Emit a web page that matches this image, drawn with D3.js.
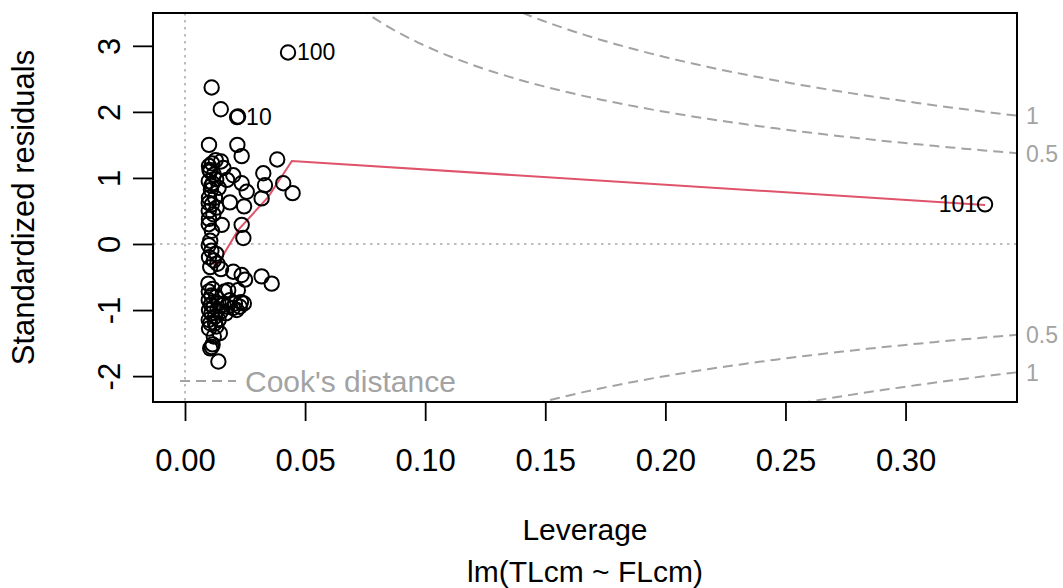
<!DOCTYPE html>
<html>
<head>
<meta charset="utf-8">
<script src="https://cdn.jsdelivr.net/npm/d3@7"></script>
<style>
  html, body { margin: 0; padding: 0; background: #ffffff; }
  svg { display: block; font-family: "Liberation Sans", Arial, sans-serif; }
</style>
</head>
<body>
<svg id="chart" width="1063" height="588"></svg>
<script>
// Leverage (hat values) of each observation
const leverage = [
  0.0429, 0.0111, 0.0149, 0.0217, 0.0221, 0.0100, 0.0218, 0.0236, 0.0384, 0.0128,
  0.0113, 0.0100, 0.0150, 0.0326, 0.0105, 0.0120, 0.0201, 0.0333, 0.0409, 0.0236,
  0.0099, 0.0110, 0.0130, 0.0257, 0.0448, 0.0319, 0.0187, 0.0246, 0.0100, 0.0112,
  0.0140, 0.0099, 0.0118, 0.0100, 0.0153, 0.0236, 0.0099, 0.0243, 0.0105, 0.0099,
  0.0110, 0.0100, 0.0120, 0.0135, 0.0105, 0.0201, 0.0236, 0.0250, 0.0319, 0.0361,
  0.0097, 0.0165, 0.0220, 0.0110, 0.0130, 0.0099, 0.0187, 0.0208, 0.0233, 0.0245,
  0.0200, 0.0176, 0.0120, 0.0140, 0.0100, 0.0110, 0.0150, 0.0125, 0.0099, 0.0105,
  0.0140, 0.0130, 0.0100, 0.0145, 0.0111, 0.0105, 0.0115, 0.0139, 0.0102, 0.0115,
  0.0125, 0.0108, 0.0160, 0.0175, 0.0099, 0.0132, 0.0112, 0.0130, 0.0150, 0.0160,
  0.0180, 0.0115, 0.0099, 0.0135, 0.0170, 0.0215, 0.0120, 0.0125, 0.0108, 0.0228,
  0.3331
];
// Standardized residuals, same order as leverage
const stdResid = [
  2.90, 2.37, 2.04, 1.92, 1.93, 1.50, 1.50, 1.33, 1.28, 1.27,
  1.22, 1.18, 1.25, 1.07, 1.10, 1.05, 1.04, 0.89, 0.92, 0.92,
  0.95, 0.88, 0.98, 0.79, 0.77, 0.69, 0.63, 0.57, 0.70, 0.60,
  0.85, 0.50, 0.45, 0.38, 0.29, 0.29, 0.30, 0.09, 0.05, -0.02,
  -0.10, -0.20, -0.25, -0.30, -0.35, -0.42, -0.47, -0.54, -0.49, -0.60,
  -0.60, -0.72, -0.70, -0.78, -0.80, -0.85, -0.85, -0.90, -0.88, -0.90,
  -0.97, -0.95, -0.95, -0.90, -1.00, -1.05, -1.02, -1.10, -1.15, -1.20,
  -1.15, -1.25, -1.28, -1.35, -1.56, -1.58, -1.52, -1.78, 1.12, 0.92,
  0.70, 0.82, 1.15, 0.97, 0.62, 0.55, 0.20, -0.15, -0.38, -0.92,
  -0.70, -0.68, -0.72, -1.00, -1.05, -1.00, -1.40, -1.20, -0.92, -0.95,
  0.60
];
// Observation ids shown next to the three most extreme points
const idLabels = ["100", "10", "101"];
const idIndex = [0, 3, 100];

// Smoothed trend of residuals against leverage
const smoothLeverage = [0.0096, 0.0129, 0.0221, 0.0346, 0.0445, 0.3331];
const smoothResid = [-0.15, -0.35, 0.21, 0.71, 1.256, 0.59];

// Cook's distance contour levels and number of model parameters
const cookLevels = [0.5, 1];
const nParams = 2;

const xTicks = [0.00, 0.05, 0.10, 0.15, 0.20, 0.25, 0.30];
const yTicks = [-2, -1, 0, 1, 2, 3];

const svg = d3.select("#chart");
const plot = { left: 153, right: 1017, top: 13, bottom: 402 };

const x = d3.scaleLinear().domain([-0.01332, 0.3464]).range([plot.left, plot.right]);
const y = d3.scaleLinear().domain([-2.392, 3.497]).range([plot.bottom, plot.top]);

const grey = "#a3a3a3";
const fontTick = 31;
const fontTitle = 30;
const fontId = 23;

svg.append("defs").append("clipPath").attr("id", "clip")
  .append("rect")
  .attr("x", plot.left).attr("y", plot.top)
  .attr("width", plot.right - plot.left).attr("height", plot.bottom - plot.top);

const inner = svg.append("g").attr("clip-path", "url(#clip)");

// reference lines at zero
inner.append("line")
  .attr("x1", plot.left).attr("x2", plot.right)
  .attr("y1", y(0)).attr("y2", y(0))
  .attr("stroke", "#bdbdbd").attr("stroke-width", 2).attr("stroke-dasharray", "2.5,4.5");
inner.append("line")
  .attr("x1", x(0)).attr("x2", x(0))
  .attr("y1", plot.top).attr("y2", plot.bottom)
  .attr("stroke", "#bdbdbd").attr("stroke-width", 2).attr("stroke-dasharray", "2.5,4.5");

// Cook's distance contours: r = ±sqrt(D * p * (1 - h) / h)
const hMin = d3.min(leverage) / 100;
const hMax = x.domain()[1];
const hGrid = d3.range(101).map(i => hMin + (hMax - hMin) * i / 100);
const cookLine = d3.line().x(d => x(d[0])).y(d => y(d[1]));
cookLevels.forEach(level => {
  [1, -1].forEach(sign => {
    const pts = hGrid.map(h => [h, sign * Math.sqrt(level * nParams * (1 - h) / h)]);
    inner.append("path")
      .attr("d", cookLine(pts))
      .attr("fill", "none")
      .attr("stroke", grey)
      .attr("stroke-width", 2)
      .attr("stroke-dasharray", "10,6");
  });
});

// smoothed trend
const smoothPts = smoothLeverage.map((h, i) => [h, smoothResid[i]]);
inner.append("path")
  .attr("d", d3.line().x(d => x(d[0])).y(d => y(d[1]))(smoothPts))
  .attr("fill", "none")
  .attr("stroke", "#df536b")
  .attr("stroke-width", 2);

// observations
const obs = leverage.map((h, i) => ({ h: h, r: stdResid[i] }));
svg.append("g").selectAll("circle")
  .data(obs)
  .join("circle")
  .attr("cx", d => x(d.h))
  .attr("cy", d => y(d.r))
  .attr("r", 7.2)
  .attr("fill", "none")
  .attr("stroke", "#000")
  .attr("stroke-width", 2);

// id labels: right of point, or left when near the right edge
idIndex.forEach((idx, k) => {
  const d = obs[idx];
  const leftSide = d.h > d3.mean(x.domain());
  svg.append("text")
    .attr("x", x(d.h) + (leftSide ? -8 : 9))
    .attr("y", y(d.r))
    .attr("dy", "0.35em")
    .attr("text-anchor", leftSide ? "end" : "start")
    .attr("font-size", fontId)
    .attr("fill", "#000")
    .text(idLabels[k]);
});

// Cook's level labels on the right margin
cookLevels.forEach(level => {
  const r = Math.sqrt(level * nParams * (1 - hMax) / hMax);
  [r, -r].forEach(v => {
    svg.append("text")
      .attr("x", plot.right + 9)
      .attr("y", y(v))
      .attr("dy", "0.36em")
      .attr("font-size", fontId)
      .attr("fill", grey)
      .text(String(level));
  });
});

// legend
svg.append("line")
  .attr("x1", 180).attr("x2", 236)
  .attr("y1", 381).attr("y2", 381)
  .attr("stroke", grey).attr("stroke-width", 2).attr("stroke-dasharray", "10,6");
svg.append("text")
  .attr("x", 245).attr("y", 381).attr("dy", "0.36em")
  .attr("font-size", fontTitle)
  .attr("fill", grey)
  .text("Cook's distance");

// x axis
const xAxis = svg.append("g")
  .attr("transform", `translate(0,${plot.bottom})`)
  .call(d3.axisBottom(x).tickValues(xTicks).tickFormat(d3.format(".2f")).tickSize(19).tickSizeOuter(0));
xAxis.select(".domain").remove();
xAxis.selectAll(".tick line").attr("stroke", "#000").attr("stroke-width", 1.8);
xAxis.selectAll(".tick text")
  .attr("y", 69).attr("dy", 0)
  .attr("font-size", fontTick)
  .attr("font-family", "Liberation Sans, Arial, sans-serif")
  .attr("fill", "#000");

// y axis with labels parallel to the axis
const yAxis = svg.append("g")
  .attr("transform", `translate(${plot.left},0)`)
  .call(d3.axisLeft(y).tickValues(yTicks).tickFormat(d => String(d)).tickSize(20).tickSizeOuter(0));
yAxis.select(".domain").remove();
yAxis.selectAll(".tick line").attr("stroke", "#000").attr("stroke-width", 1.8);
yAxis.selectAll(".tick text")
  .attr("transform", "rotate(-90)")
  .attr("x", 0).attr("y", -33.5).attr("dy", 0)
  .attr("text-anchor", "middle")
  .attr("font-size", fontTick)
  .attr("font-family", "Liberation Sans, Arial, sans-serif")
  .attr("fill", "#000");

// plot frame
svg.append("rect")
  .attr("x", plot.left).attr("y", plot.top)
  .attr("width", plot.right - plot.left).attr("height", plot.bottom - plot.top)
  .attr("fill", "none").attr("stroke", "#000").attr("stroke-width", 2);

// axis titles
svg.append("text")
  .attr("x", (plot.left + plot.right) / 2).attr("y", 540)
  .attr("text-anchor", "middle").attr("font-size", fontTitle)
  .text("Leverage");
svg.append("text")
  .attr("x", (plot.left + plot.right) / 2).attr("y", 582)
  .attr("text-anchor", "middle").attr("font-size", fontTitle)
  .text("lm(TLcm ~ FLcm)");
svg.append("text")
  .attr("transform", `translate(34,${(plot.top + plot.bottom) / 2}) rotate(-90)`)
  .attr("text-anchor", "middle").attr("font-size", fontTick)
  .text("Standardized residuals");
</script>
</body>
</html>
